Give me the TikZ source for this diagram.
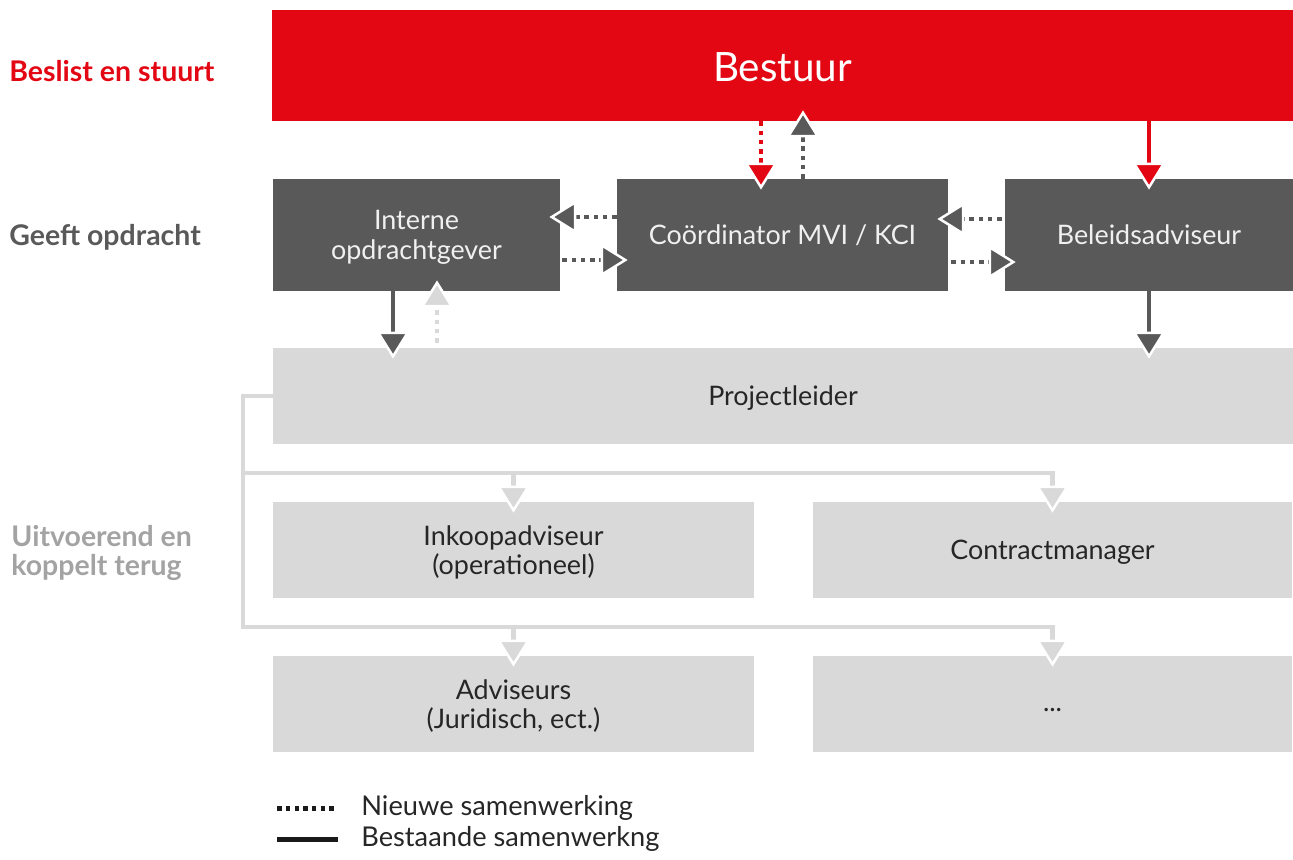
\documentclass[tikz,border=0pt]{standalone}
\usepackage{fontspec}
\setmainfont{Lato}
\usetikzlibrary{arrows.meta,calc}
\definecolor{rd}{HTML}{E30613}
\definecolor{dk}{HTML}{595959}
\definecolor{lt}{HTML}{D9D9D9}
\definecolor{lab}{HTML}{A3A3A3}
\definecolor{txt}{HTML}{262626}
\definecolor{leg}{HTML}{1A1A1A}
\tikzset{
  box/.style={inner sep=0pt, align=center, font=\fontsize{15.3}{16.8}\selectfont},
  darkbox/.style={box, text depth=0pt, fill=dk, text=white!94!black},
  lightbox/.style={box, text depth=0pt, fill=lt, text=txt},
  atip/.style={-{Triangle[width=0.66cm,length=0.54cm,line width=0.05cm,fill=#1,color=white]}},
  dotline/.style={line width=0.085cm, dash pattern=on 0.09cm off 0.095cm},
  solidline/.style={line width=0.085cm},
  into/.style={shorten >=-0.22cm},
  dotred/.style={dotline, draw=rd, atip=rd, into},
  dotdark/.style={dotline, draw=dk, atip=dk, into},
  dotlight/.style={dotline, draw=lt, atip=lt, into},
  solred/.style={solidline, draw=rd, atip=rd, into},
  soldark/.style={solidline, draw=dk, atip=dk, into},
  conn/.style={solidline, draw=lt, atip=lt, into},
  sidelabel/.style={anchor=west, inner sep=0pt, align=left, font=\fontsize{16.2}{17}\selectfont\bfseries},
  legtext/.style={anchor=west, inner sep=0pt, text=txt, font=\fontsize{15.5}{17}\selectfont},
}
\begin{document}
\begin{tikzpicture}[x=0.02cm,y=-0.02cm]
\useasboundingbox (0,0) rectangle (1293,859);
% boxes
\node[box, fill=rd, text=white, minimum width=20.42cm, minimum height=2.22cm, font=\fontsize{23}{26}\selectfont, text height=0.66cm] (bestuur) at (782.5,65.5) {Bestuur};
\node[darkbox, minimum width=5.74cm, minimum height=2.24cm] (interne) at (416.5,235) {Interne\\opdrachtgever};
\node[darkbox, minimum width=6.62cm, minimum height=2.24cm] (coord) at (782.5,235) {Coördinator MVI / KCI};
\node[darkbox, minimum width=5.76cm, minimum height=2.24cm] (beleid) at (1149,235) {Beleidsadviseur};
\node[lightbox, minimum width=20.4cm, minimum height=1.92cm] (proj) at (783,396) {Projectleider};
\node[lightbox, minimum width=9.62cm, minimum height=1.92cm] (inkoop) at (513.5,550) {Inkoopadviseur\\(operationeel)};
\node[lightbox, minimum width=9.58cm, minimum height=1.92cm] (contract) at (1052.5,550) {Contractmanager};
\node[lightbox, minimum width=9.62cm, minimum height=1.92cm] (advis) at (513.5,704) {Adviseurs\\(Juridisch, ect.)};
\node[lightbox, minimum width=9.58cm, minimum height=1.92cm, text height=0.28cm] (more) at (1052.5,704) {...};
% side labels
\node[sidelabel, text=rd] (l1) at (9,71) {Beslist en stuurt};
\node[sidelabel, text=dk] (l2) at (9,237) {Geeft opdracht};
\node[sidelabel, text=lab] (l3) at (11,553) {Uitvoerend en\\koppelt terug};
% connectors top
\draw[dotred] ($(bestuur.south)+(-21.5,0)$) -- ($(coord.north)+(-21.5,0)$);
\draw[dotdark] ($(coord.north)+(20.5,0)$) -- ($(bestuur.south)+(20.5,0)$);
\draw[solred] (beleid.north |- bestuur.south) -- (beleid.north);
\draw[dotdark] ($(coord.west)+(0,-18)$) -- ($(interne.east)+(0,-18)$);
\draw[dotdark] ($(interne.east)+(2,25)$) -- ($(coord.west)+(0,25)$);
\draw[dotdark] ($(beleid.west)+(-3,-16)$) -- ($(coord.east)+(0,-16)$);
\draw[dotdark] ($(coord.east)+(3,27)$) -- ($(beleid.west)+(0,27)$);
\draw[soldark] ($(interne.south)+(-23.5,0)$) -- ($(proj.north -| interne.south)+(-23.5,0)$);
\draw[dotlight] ($(proj.north -| interne.south)+(20.5,-5)$) -- ($(interne.south)+(20.5,0)$);
\draw[soldark] (beleid.south) -- (proj.north -| beleid.south);
% distribution connectors
\coordinate (j1) at (243,473);
\coordinate (j2) at (243,627);
\draw[conn] (proj.west) -| (j2) -| (more.north);
\draw[conn] (j1) -| (contract.north);
\draw[conn] (j1 -| inkoop.north) -- (inkoop.north);
\draw[conn] (j2 -| advis.north) -- (advis.north);
% legend
\coordinate (la) at (277,808);
\coordinate (lb) at (338,808);
\coordinate (lc) at (277,839);
\coordinate (ld) at (338,839);
\draw[line width=0.1cm, draw=leg, dash pattern=on 0.09cm off 0.085cm] (la) -- (lb);
\draw[line width=0.1cm, draw=leg] (lc) -- (ld);
\node[legtext] (t1) at (361,808) {Nieuwe samenwerking};
\node[legtext] (t2) at (361,839) {Bestaande samenwerkng};
\end{tikzpicture}
\end{document}
